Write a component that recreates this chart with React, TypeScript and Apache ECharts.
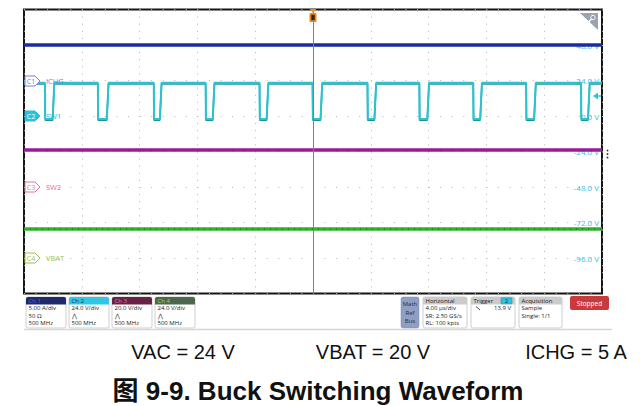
import React, { useEffect, useRef } from "react";
import * as echarts from "echarts";

// ---- axes (time in µs, volts on the Ch2 scale) ----
const TIME_MIN = 0;
const TIME_MAX = 40;
const TIME_STEP = 4;
const VOLT_MIN = -120;
const VOLT_MAX = 72;
const VOLT_STEP = 24;
const rightLabelValues = [48, 24, 0, -24, -48, -72, -96];

// ---- traces ----
const ch1Times = [0, 40];
const ch1Volts = [48, 48];
const sw1High = 22.5;
const sw1Low = -2;
const sw1Fall = [1.45, 5.11, 8.98, 12.57, 16.3, 19.97, 23.77, 27.36, 31.09, 34.75, 38.55];
const sw1Rise = [1.98, 5.73, 9.4, 13.06, 16.79, 20.52, 24.25, 27.91, 31.57, 35.3, 39.03];
const sw2Times = [0, 40];
const sw2Volts = [-23, -23];
const vbatTimes = [0, 40];
const vbatVolts = [-76.4, -76.4];
const triggerTime = [20];

// ---- channel markers ----
const markerNames = ["C1", "C2", "C3", "C4"];
const markerLabels = ["ICHG", "SW1", "SW2", "VBAT"];
const markerY = [81, 116, 187, 258];
const markerColors = ["#7d7de6", "#27c3dc", "#e2749c", "#a4c43a"];
const markerFilled = [false, true, false, false];

// ---- bottom panel ----
const chanHeaders = ["Ch 1", "Ch 2", "Ch 3", "Ch 4"];
const chanLines = [
  ["5.00 A/div", "50 Ω", "500 MHz"],
  ["24.0 V/div", "⋀", "500 MHz"],
  ["20.0 V/div", "⋀", "500 MHz"],
  ["24.0 V/div", "⋀", "500 MHz"],
];
const chanHeadFill = ["#20296a", "#2fc7e2", "#6a2244", "#4d674c"];
const chanHeadText = ["#5868d6", "#13334a", "#e07aa2", "#a6d85e"];
const horizLines = ["4.00 µs/div", "SR: 2.50 GS/s", "RL: 100 kpts"];
const acqLines = ["Sample", "Single: 1/1"];
const conditions = ["VAC = 24 V", "VBAT = 20 V", "ICHG = 5 A"];
const conditionX = [183, 373, 576];
const titleText = "图 9-9. Buck Switching Waveform";

function buildSw1(): number[][] {
  const pts: number[][] = [[TIME_MIN, sw1High]];
  for (let i = 0; i < sw1Fall.length; i++) {
    pts.push([sw1Fall[i], sw1High]);
    pts.push([sw1Fall[i] + 0.02, sw1Low]);
    pts.push([sw1Rise[i], sw1Low]);
    pts.push([sw1Rise[i] + 0.12, sw1High]);
  }
  pts.push([TIME_MAX, sw1High]);
  return pts;
}

const SMALL = "6px 'Open Sans', 'Noto Sans', sans-serif";
const LINE_Y = [308.3, 315.7, 323.1];

function panelGraphics(): any[] {
  const g: any[] = [];
  g.push({ type: "line", shape: { x1: 24, y1: 329.5, x2: 612, y2: 329.5 }, style: { stroke: "#d6d6d6", lineWidth: 1.5 } });
  for (let i = 0; i < 4; i++) {
    const x = 26 + i * 43;
    g.push({ type: "rect", shape: { x, y: 297, width: 40, height: 31, r: 2 }, style: { fill: "#ffffff", stroke: "#cfcfcf", lineWidth: 1 } });
    g.push({ type: "rect", shape: { x, y: 297, width: 40, height: 7.5, r: [2, 2, 0, 0] }, style: { fill: chanHeadFill[i] } });
    g.push({ type: "text", x: x + 2.5, y: 300.8, style: { text: chanHeaders[i], fill: chanHeadText[i], font: SMALL, verticalAlign: "middle" } });
    chanLines[i].forEach((t, k) => {
      g.push({ type: "text", x: x + 2.5, y: LINE_Y[k], style: { text: t, fill: "#222", font: SMALL, verticalAlign: "middle" } });
    });
  }
  // Math Ref Bus
  g.push({ type: "rect", shape: { x: 401, y: 297, width: 18, height: 31, r: 2 }, style: { fill: "#8e9fc3", stroke: "#7f8fb0", lineWidth: 0.5 } });
  ["Math", "Ref", "Bus"].forEach((t, k) => {
    g.push({ type: "text", x: 410, y: 304 + k * 8.5, style: { text: t, fill: "#2a2a3a", font: SMALL, align: "center", verticalAlign: "middle" } });
  });
  // Horizontal
  g.push({ type: "rect", shape: { x: 423, y: 297, width: 44, height: 31, r: 2 }, style: { fill: "#fff", stroke: "#cfcfcf", lineWidth: 1 } });
  g.push({ type: "rect", shape: { x: 423, y: 297, width: 44, height: 7.5, r: [2, 2, 0, 0] }, style: { fill: "#cbcbcb" } });
  g.push({ type: "text", x: 425.5, y: 300.8, style: { text: "Horizontal", fill: "#222", font: SMALL, verticalAlign: "middle" } });
  horizLines.forEach((t, k) => {
    g.push({ type: "text", x: 425.5, y: LINE_Y[k], style: { text: t, fill: "#222", font: SMALL, verticalAlign: "middle" } });
  });
  // Trigger
  g.push({ type: "rect", shape: { x: 471, y: 297, width: 44, height: 31, r: 2 }, style: { fill: "#fff", stroke: "#cfcfcf", lineWidth: 1 } });
  g.push({ type: "rect", shape: { x: 471, y: 297, width: 44, height: 7.5, r: [2, 2, 0, 0] }, style: { fill: "#cbcbcb" } });
  g.push({ type: "text", x: 473.5, y: 300.8, style: { text: "Trigger", fill: "#222", font: SMALL, verticalAlign: "middle" } });
  g.push({ type: "rect", shape: { x: 501, y: 297.8, width: 11, height: 6, r: 0.5 }, style: { fill: "#2ec4e0", stroke: "#1b7f95", lineWidth: 0.5 } });
  g.push({ type: "text", x: 506.5, y: 300.9, style: { text: "2", fill: "#10304a", font: SMALL, align: "center", verticalAlign: "middle" } });
  g.push({ type: "line", shape: { x1: 476, y1: 306.5, x2: 480, y2: 310 }, style: { stroke: "#222", lineWidth: 0.8 } });
  g.push({ type: "text", x: 511, y: LINE_Y[0], style: { text: "13.9 V", fill: "#222", font: SMALL, align: "right", verticalAlign: "middle" } });
  // Acquisition
  g.push({ type: "rect", shape: { x: 519, y: 297, width: 43, height: 31, r: 2 }, style: { fill: "#fff", stroke: "#cfcfcf", lineWidth: 1 } });
  g.push({ type: "rect", shape: { x: 519, y: 297, width: 43, height: 7.5, r: [2, 2, 0, 0] }, style: { fill: "#cbcbcb" } });
  g.push({ type: "text", x: 521.5, y: 300.8, style: { text: "Acquisition", fill: "#222", font: SMALL, verticalAlign: "middle" } });
  acqLines.forEach((t, k) => {
    g.push({ type: "text", x: 521.5, y: LINE_Y[k], style: { text: t, fill: "#222", font: SMALL, verticalAlign: "middle" } });
  });
  // Stopped
  g.push({ type: "rect", shape: { x: 570, y: 296, width: 39, height: 14, r: 2 }, style: { fill: "#c93a3b" } });
  g.push({ type: "text", x: 589.5, y: 303, style: { text: "Stopped", fill: "#ffffff", font: "6.5px 'Open Sans', sans-serif", align: "center", verticalAlign: "middle" } });
  return g;
}

function screenGraphics(): any[] {
  const g: any[] = [];
  for (let i = 0; i < 4; i++) {
    const y = markerY[i];
    const c = markerColors[i];
    g.push({
      type: "polygon", z: 100,
      shape: { points: [[25, y - 5], [35, y - 5], [40, y], [35, y + 5], [25, y + 5]] },
      style: { fill: markerFilled[i] ? c : "#ffffff", stroke: c, lineWidth: 1 },
    });
    g.push({ type: "text", z: 101, x: 31, y, style: { text: markerNames[i], fill: markerFilled[i] ? "#ffffff" : c, font: "7px 'Open Sans', sans-serif", align: "center", verticalAlign: "middle" } });
    g.push({ type: "text", z: 101, x: 46, y, style: { text: markerLabels[i], fill: c, font: "7.5px 'Open Sans', sans-serif", verticalAlign: "middle" } });
  }
  // trigger marker
  g.push({ type: "polygon", z: 100, shape: { points: [[309.5, 9], [316.5, 9], [313, 13]] }, style: { fill: "#f0901e" } });
  g.push({ type: "rect", z: 100, shape: { x: 309.5, y: 13, width: 7, height: 9, r: 1 }, style: { fill: "#e8861a" } });
  g.push({ type: "rect", z: 101, shape: { x: 311.3, y: 14.8, width: 3.4, height: 5.4 }, style: { fill: "#3a2610" } });
  // zoom corner icon
  g.push({ type: "polygon", z: 100, shape: { points: [[580, 13], [598, 13], [598, 30]] }, style: { fill: "#9aa3ae" } });
  g.push({ type: "circle", z: 101, shape: { cx: 593, cy: 17.5, r: 2.2 }, style: { fill: "none", stroke: "#ffffff", lineWidth: 1 } });
  g.push({ type: "line", z: 101, shape: { x1: 591.5, y1: 19, x2: 588.5, y2: 22 }, style: { stroke: "#ffffff", lineWidth: 1.2 } });
  // cyan offset arrow
  g.push({ type: "polygon", z: 100, shape: { points: [[593, 96], [598, 92.5], [598, 99.5]] }, style: { fill: "#2fc3dc" } });
  g.push({ type: "line", z: 100, shape: { x1: 597, y1: 96, x2: 601, y2: 96 }, style: { stroke: "#2fc3dc", lineWidth: 1.5 } });
  // three dots
  [150.5, 154, 157.5].forEach((y) => {
    g.push({ type: "circle", z: 100, shape: { cx: 607.5, cy: y, r: 0.9 }, style: { fill: "#333" } });
  });
  return g;
}

function textGraphics(): any[] {
  const g: any[] = [];
  conditions.forEach((t, i) => {
    g.push({ type: "text", x: conditionX[i], y: 352, style: { text: t, fill: "#111", font: "20px 'Liberation Sans', Arial, sans-serif", align: "center", verticalAlign: "middle" } });
  });
  g.push({ type: "text", x: 318, y: 391, style: { text: titleText, fill: "#111", font: "bold 26px 'Liberation Sans', Arial, 'Noto Sans CJK SC', sans-serif", align: "center", verticalAlign: "middle" } });
  return g;
}

export default function App() {
  const ref = useRef<HTMLDivElement>(null);
  useEffect(() => {
    if (!ref.current) return;
    const chart = echarts.init(ref.current, undefined, { renderer: "svg" });
    const sw1 = buildSw1();
    const sw1Shadow = sw1.map((p) => [p[0], p[1] - 0.9]);
    const option: any = {
      animation: false,
      backgroundColor: "#ffffff",
      grid: { left: 24, top: 9.5, width: 578, height: 284, show: true, borderColor: "#151515", borderWidth: 2, backgroundColor: "#ffffff" },
      xAxis: {
        type: "value", min: TIME_MIN, max: TIME_MAX, interval: TIME_STEP,
        axisLine: { show: false }, axisTick: { show: false }, axisLabel: { show: false },
        splitLine: { show: true, lineStyle: { color: "#b4b4b4", width: 1, type: [1, 6.1] } },
      },
      yAxis: {
        type: "value", position: "right", min: VOLT_MIN, max: VOLT_MAX, interval: VOLT_STEP,
        axisLine: { show: false }, axisTick: { show: false },
        axisLabel: {
          inside: true, margin: 3, color: "#35c2dc", fontSize: 8,
          fontFamily: "'Open Sans', sans-serif",
          formatter: (v: number) => (rightLabelValues.includes(v) ? v.toFixed(1) + " V" : ""),
        },
        splitLine: { show: true, lineStyle: { color: "#b4b4b4", width: 1, type: [1, 10.56] } },
      },
      series: [
        {
          type: "line", data: [], silent: true, z: 1,
          markLine: {
            silent: true, symbol: "none", label: { show: false },
            lineStyle: { color: "#808080", width: 1, type: "solid" },
            data: triggerTime.map((t) => ({ xAxis: t })),
          },
        },
        { type: "line", data: ch1Times.map((t, i) => [t, ch1Volts[i]]), showSymbol: false, silent: true, lineStyle: { color: "#1a2c9e", width: 3.5 } },
        { type: "line", data: sw1Shadow, showSymbol: false, silent: true, lineStyle: { color: "#1c9499", width: 1.6 } },
        { type: "line", data: sw1, showSymbol: false, silent: true, lineStyle: { color: "#2cc2d0", width: 2 } },
        { type: "line", data: sw2Times.map((t, i) => [t, sw2Volts[i]]), showSymbol: false, silent: true, lineStyle: { color: "#9a1a9c", width: 3.5 } },
        { type: "line", data: vbatTimes.map((t, i) => [t, vbatVolts[i]]), showSymbol: false, silent: true, lineStyle: { color: "#2db52a", width: 3.5 } },
        { type: "line", data: vbatTimes.map((t, i) => [t, vbatVolts[i]]), showSymbol: false, silent: true, lineStyle: { color: "#1e5c1e", width: 1, type: [1, 5] } },
      ],
      graphic: [...screenGraphics(), ...panelGraphics(), ...textGraphics()],
    };
    chart.setOption(option);
    return () => chart.dispose();
  }, []);
  return <div ref={ref} style={{ position: "fixed", left: 0, top: 0, width: 640, height: 406, background: "#fff" }} />;
}
